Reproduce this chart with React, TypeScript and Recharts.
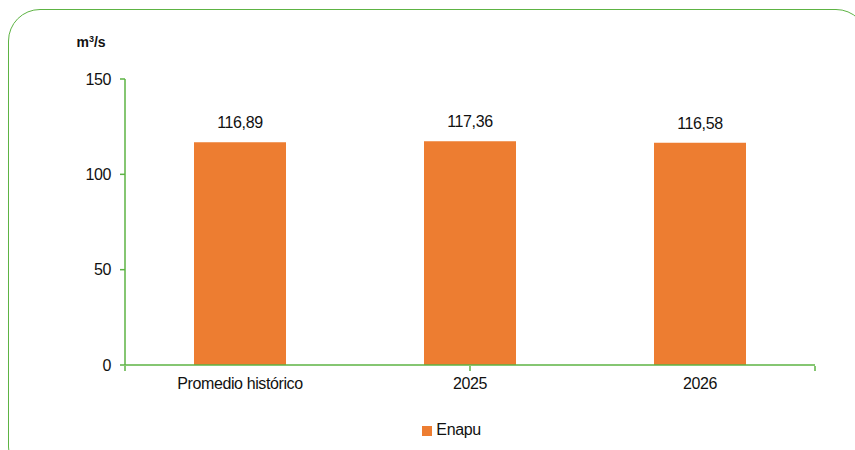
import React from 'react';
import { BarChart, Bar, XAxis, YAxis, Legend, LabelList } from 'recharts';

const categories = ['Promedio histórico', '2025', '2026'];
const enapuValues = [116.89, 117.36, 116.58];
const yTicks = [0, 50, 100, 150];
const boundaryTicks = [0, 1, 2, 3];
const seriesName = 'Enapu';

const data = categories.map((c, i) => ({ name: c, enapu: enapuValues[i] }));

const GREEN = '#5db343';
const ORANGE = '#ED7D31';
const FONT = "'Liberation Sans', Arial, sans-serif";
const TXT = { fill: '#111', fontSize: 16, fontFamily: FONT, letterSpacing: -0.4 };

const fmt = (v: number) => v.toFixed(2).replace('.', ',');

export default function App() {
  return (
    <div style={{ position: 'absolute', left: 0, top: 0, width: 855, height: 450, overflow: 'hidden', background: '#fff' }}>
      <div
        style={{
          position: 'absolute',
          left: 8,
          top: 9,
          width: 860,
          height: 470,
          border: `1.5px solid ${GREEN}`,
          borderRadius: 32,
          boxSizing: 'border-box',
        }}
      />
      <div style={{ position: 'absolute', left: 0, top: 0 }}>
        <BarChart
          width={855}
          height={450}
          data={data}
          margin={{ top: 79, right: 40, bottom: 0, left: 0 }}
          barCategoryGap="30%"
          style={{ fontFamily: FONT }}
        >
          <YAxis
            type="number"
            domain={[0, 150]}
            ticks={yTicks}
            width={125}
            axisLine={{ stroke: GREEN, strokeWidth: 1.5 }}
            tickLine={{ stroke: GREEN, strokeWidth: 1.5 }}
            tickSize={5}
            tickMargin={9}
            tick={TXT}
            label={{
              content: (props: any) => {
                const vb = props.viewBox || {};
                return (
                  <text
                    x={(vb.x || 0) + (vb.width || 0) - 34}
                    y={(vb.y || 0) - 32}
                    textAnchor="middle"
                    fontWeight="bold"
                    fontSize={14}
                    fontFamily={FONT}
                    fill="#111"
                  >
                    m<tspan dy={-5} fontSize={9}>3</tspan>
                    <tspan dy={5}>/s</tspan>
                  </text>
                );
              },
            }}
          />
          <XAxis
            dataKey="name"
            type="category"
            height={1}
            axisLine={{ stroke: GREEN, strokeWidth: 1.5 }}
            tickLine={false}
            tickSize={5}
            tickMargin={8}
            tick={TXT}
          />
          <XAxis
            xAxisId="bounds"
            type="number"
            domain={[0, 3]}
            ticks={boundaryTicks}
            height={1}
            axisLine={false}
            tickFormatter={() => ''}
            tick={{ fontSize: 1 }}
            tickSize={5}
            tickLine={{ stroke: GREEN, strokeWidth: 1.5 }}
          />
          <Legend
            verticalAlign="bottom"
            align="center"
            height={83}
            iconType="square"
            iconSize={10}
            wrapperStyle={{ fontFamily: FONT, fontSize: 16, letterSpacing: -0.4, paddingTop: 54, paddingLeft: 98, boxSizing: 'border-box' }}
            formatter={(v: any) => <span style={{ color: '#111' }}>{v}</span>}
          />
          <Bar dataKey="enapu" name={seriesName} fill={ORANGE} isAnimationActive={false}>
            <LabelList
              dataKey="enapu"
              position="top"
              offset={14}
              formatter={(v: any) => fmt(Number(v))}
              style={TXT}
            />
          </Bar>
        </BarChart>
      </div>
    </div>
  );
}
